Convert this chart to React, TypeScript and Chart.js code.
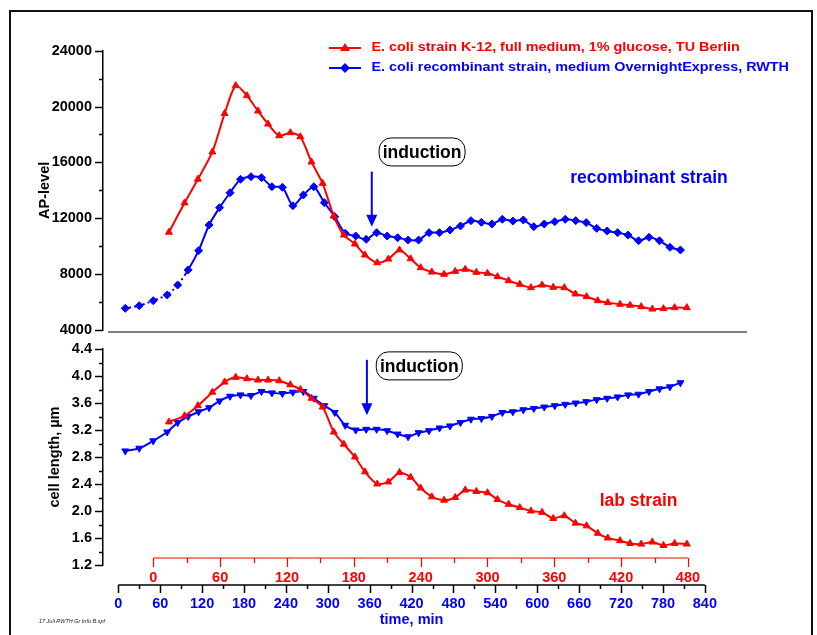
import React, { useEffect, useRef } from "react";
import { Chart, registerables } from "chart.js";

Chart.register(...registerables);

const FONT = "'Liberation Sans', Arial, Helvetica, sans-serif";
const RED = "#ff0000";
const BLUE = "#0000ff";

// ---------------- data ----------------
// Lab strain (E. coli K-12, TU Berlin): sampling times on the red time axis, min
const labTimes = [
  14, 28, 40, 53, 64, 74, 84, 94, 103, 113, 123, 132, 142, 152, 162, 171, 181, 190, 201, 211, 221, 231, 240, 250,
  261, 271, 280, 290, 300, 309, 319, 329, 339, 349, 359, 369, 379, 389, 399, 408, 419, 428, 438, 448, 458, 468, 479,
];
const labAP = [
  11000, 13100, 14800, 16750, 19500, 21500, 20780, 19680, 18750, 17910, 18130, 17840, 16030, 14500, 12160, 10800,
  10160, 9370, 8820, 9080, 9730, 9100, 8460, 8150, 7990, 8200, 8350, 8130, 8060, 7820, 7530, 7270, 7030, 7220, 7060,
  7030, 6580, 6390, 6100, 5960, 5840, 5770, 5670, 5500, 5530, 5600, 5600,
];
const labCellLength = [
  3.32, 3.41, 3.56, 3.76, 3.91, 3.98, 3.96, 3.94, 3.94, 3.93, 3.87, 3.8, 3.67, 3.54, 3.17, 2.99, 2.8, 2.58, 2.4, 2.43,
  2.57, 2.5, 2.34, 2.21, 2.16, 2.2, 2.31, 2.29, 2.27, 2.17, 2.1, 2.05, 2.0, 1.98, 1.89, 1.93, 1.82, 1.78, 1.67, 1.6,
  1.56, 1.52, 1.51, 1.54, 1.49, 1.52, 1.51,
];

// Recombinant strain (RWTH): sampling times on the blue time axis, min
const recTimes = [
  10, 30, 50, 70, 85, 100, 115, 130, 145, 160, 175, 190, 205, 220, 235, 250, 265, 280, 295, 310, 325, 340, 355, 370,
  385, 400, 415, 430, 445, 460, 475, 490, 505, 520, 535, 550, 565, 580, 595, 610, 625, 640, 655, 670, 685, 700, 715,
  730, 745, 760, 775, 790, 805,
];
const recAP = [
  5550, 5740, 6100, 6510, 7220, 8300, 9680, 11520, 12760, 13830, 14790, 14980, 14910, 14260, 14220, 12900, 13670,
  14260, 13120, 12110, 10920, 10730, 10490, 10970, 10730, 10610, 10440, 10440, 10970, 10970, 11160, 11450, 11830,
  11710, 11590, 11930, 11800, 11880, 11400, 11590, 11760, 11930, 11830, 11690, 11280, 11090, 10970, 10800, 10390,
  10640, 10390, 9920, 9730,
];
const recCellLength = [
  2.89, 2.93, 3.04, 3.17, 3.31, 3.4, 3.47, 3.53, 3.63, 3.7, 3.72, 3.71, 3.77, 3.75, 3.74, 3.76, 3.77, 3.67, 3.56,
  3.46, 3.27, 3.2, 3.21, 3.21, 3.19, 3.14, 3.1, 3.16, 3.19, 3.23, 3.26, 3.31, 3.36, 3.37, 3.4, 3.46, 3.47, 3.5, 3.52,
  3.54, 3.56, 3.58, 3.6, 3.62, 3.65, 3.67, 3.69, 3.72, 3.73, 3.77, 3.81, 3.84, 3.9,
];

// ---------------- ticks & labels ----------------
const apTicks = [4000, 8000, 12000, 16000, 20000, 24000];
const apMinorStep = 2000;
const lengthTicks = [1.2, 1.6, 2.0, 2.4, 2.8, 3.2, 3.6, 4.0, 4.4];
const lengthMinorStep = 0.2;
const recTimeTicks = [0, 60, 120, 180, 240, 300, 360, 420, 480, 540, 600, 660, 720, 780, 840];
const labTimeTicks = [0, 60, 120, 180, 240, 300, 360, 420, 480];
const timeMinorStep = 30;

const legendLabels = [
  "E. coli strain K-12, full medium, 1% glucose, TU Berlin",
  "E. coli recombinant strain, medium OvernightExpress, RWTH",
];

// annotation anchors (recombinant time axis, panel value)
const topInduction = { boxX: 435, boxY: 16750, arrowX: 363, arrowFrom: 15340, arrowTo: 11400 };
const bottomInduction = { boxX: 431, boxY: 4.15, arrowX: 356, arrowFrom: 4.24, arrowTo: 3.42 };
const recLabel = { x: 760, y: 14880, text: "recombinant strain" };
const labLabel = { x: 745, y: 2.15, text: "lab strain" };

// ---------------- layout ----------------
const PAGE_W = 817;
const TOP_H = 340;
const BOTTOM_H = 295;
const AXIS_X = 103; // y-axis line position
const PAD_RIGHT = 70; // plot area ends at x = 747
const REC_RANGE = { min: -21.9, max: 900.3 };
const LAB_RANGE = { min: -45.2, max: 533.0 };

const bold = (size: number) => ({ family: FONT, size, weight: "bold" as const });

function timeScale(which: "rec" | "lab", show: boolean) {
  const isRec = which === "rec";
  const range = isRec ? REC_RANGE : LAB_RANGE;
  const ticks = isRec ? recTimeTicks : labTimeTicks;
  return {
    type: "linear",
    position: "bottom",
    display: show,
    weight: isRec ? 2 : 1,
    bounds: "data",
    min: range.min,
    max: range.max,
    afterBuildTicks: (s: any) => {
      s.ticks = ticks.map((v) => ({ value: v }));
    },
    afterFit: (s: any) => {
      s.height = show ? (isRec ? 48 : 22) : 0;
      s.paddingLeft = 0;
      s.paddingRight = 0;
    },
    grid: { display: false, drawTicks: false },
    border: { display: false },
    ticks: {
      autoSkip: false,
      maxRotation: 0,
      minRotation: 0,
      padding: isRec ? 8.3 : 4.3,
      color: isRec ? BLUE : RED,
      font: bold(14.5),
      callback: (v: any) => String(v),
    },
  };
}

function valueScale(min: number, max: number, ticks: number[], title: string, titlePad: number, fmt: (v: number) => string) {
  return {
    type: "linear",
    position: "left",
    bounds: "data",
    min,
    max,
    afterBuildTicks: (s: any) => {
      s.ticks = ticks.map((v) => ({ value: v }));
    },
    afterFit: (s: any) => {
      s.width = AXIS_X;
      s.paddingTop = 0;
      s.paddingBottom = 0;
    },
    grid: { display: false, drawTicks: false },
    border: { display: true, color: "#000", width: 1.5 },
    ticks: { padding: 11, color: "#000", font: bold(14.5), callback: (v: any) => fmt(Number(v)) },
    title: { display: true, text: title, color: "#000", font: bold(14.5), padding: { top: titlePad, bottom: 0 } },
  };
}

function drawYTicks(ctx: CanvasRenderingContext2D, scale: any, minorStep: number, majorTicks: number[]) {
  const x = scale.right;
  const n = Math.round((scale.max - scale.min) / minorStep);
  ctx.save();
  ctx.strokeStyle = "#000";
  ctx.lineWidth = 1.5;
  for (let i = 0; i <= n; i++) {
    const v = scale.min + i * minorStep;
    const major = majorTicks.some((t) => Math.abs(t - v) < 1e-6);
    const y = Math.round(scale.getPixelForValue(v)) + 0.5;
    ctx.beginPath();
    ctx.moveTo(x - (major ? 8 : 4), y);
    ctx.lineTo(x, y);
    ctx.stroke();
  }
  ctx.restore();
}

function drawTimeAxis(
  ctx: CanvasRenderingContext2D,
  scale: any,
  y: number,
  ticks: number[],
  color: string,
  width: number,
  majorLen: number,
  minorLen: number
) {
  const first = ticks[0];
  const last = ticks[ticks.length - 1];
  ctx.save();
  ctx.strokeStyle = color;
  ctx.lineWidth = width;
  ctx.beginPath();
  ctx.moveTo(scale.getPixelForValue(first), y);
  ctx.lineTo(scale.getPixelForValue(last), y);
  ctx.stroke();
  const n = Math.round((last - first) / timeMinorStep);
  for (let i = 0; i <= n; i++) {
    const v = first + i * timeMinorStep;
    const major = ticks.includes(v);
    const x = Math.round(scale.getPixelForValue(v)) + 0.5;
    ctx.beginPath();
    ctx.moveTo(x, y);
    ctx.lineTo(x, y + (major ? majorLen : minorLen));
    ctx.stroke();
  }
  ctx.restore();
}

function roundedRect(ctx: CanvasRenderingContext2D, x: number, y: number, w: number, h: number, r: number) {
  ctx.beginPath();
  ctx.moveTo(x + r, y);
  ctx.arcTo(x + w, y, x + w, y + h, r);
  ctx.arcTo(x + w, y + h, x, y + h, r);
  ctx.arcTo(x, y + h, x, y, r);
  ctx.arcTo(x, y, x + w, y, r);
  ctx.closePath();
}

function drawInduction(ctx: CanvasRenderingContext2D, xs: any, ys: any, a: any) {
  const cx = xs.getPixelForValue(a.boxX);
  const cy = ys.getPixelForValue(a.boxY);
  const w = 86;
  const h = 28;
  ctx.save();
  roundedRect(ctx, cx - w / 2, cy - h / 2, w, h, 12);
  ctx.fillStyle = "#fff";
  ctx.fill();
  ctx.lineWidth = 1;
  ctx.strokeStyle = "#000";
  ctx.stroke();
  ctx.font = `bold 17.5px ${FONT}`;
  ctx.textAlign = "center";
  ctx.textBaseline = "middle";
  ctx.fillStyle = "#000";
  ctx.fillText("induction", cx, cy + 1);

  const ax = xs.getPixelForValue(a.arrowX);
  const y0 = ys.getPixelForValue(a.arrowFrom);
  const y1 = ys.getPixelForValue(a.arrowTo);
  ctx.strokeStyle = BLUE;
  ctx.fillStyle = BLUE;
  ctx.lineWidth = 2;
  ctx.beginPath();
  ctx.moveTo(ax, y0);
  ctx.lineTo(ax, y1 - 10);
  ctx.stroke();
  ctx.beginPath();
  ctx.moveTo(ax - 5.5, y1 - 12);
  ctx.lineTo(ax + 5.5, y1 - 12);
  ctx.lineTo(ax, y1);
  ctx.closePath();
  ctx.fill();
  ctx.restore();
}

function drawText(ctx: CanvasRenderingContext2D, text: string, x: number, y: number, color: string, font: string) {
  ctx.save();
  ctx.font = font;
  ctx.fillStyle = color;
  ctx.textAlign = "center";
  ctx.textBaseline = "middle";
  ctx.fillText(text, x, y);
  ctx.restore();
}

function legendMarker(ctx: CanvasRenderingContext2D, kind: "triangle" | "diamond", x: number, y: number, color: string) {
  ctx.save();
  ctx.fillStyle = color;
  ctx.beginPath();
  if (kind === "triangle") {
    ctx.moveTo(x, y - 5);
    ctx.lineTo(x + 5, y + 3);
    ctx.lineTo(x - 5, y + 3);
  } else {
    ctx.moveTo(x, y - 5);
    ctx.lineTo(x + 5, y);
    ctx.lineTo(x, y + 5);
    ctx.lineTo(x - 5, y);
  }
  ctx.closePath();
  ctx.fill();
  ctx.restore();
}

const topDecor = {
  id: "topDecor",
  afterDraw(chart: any) {
    const { ctx, chartArea, scales } = chart;
    drawYTicks(ctx, scales.y, apMinorStep, apTicks);

    // panel base line
    ctx.save();
    ctx.strokeStyle = "#555";
    ctx.lineWidth = 1.5;
    ctx.beginPath();
    ctx.moveTo(chartArea.left + 5, chartArea.bottom + 2);
    ctx.lineTo(chartArea.right, chartArea.bottom + 2);
    ctx.stroke();
    ctx.restore();

    // legend
    const rows = [
      { y: 48, color: RED, kind: "triangle" as const, text: legendLabels[0] },
      { y: 68, color: BLUE, kind: "diamond" as const, text: legendLabels[1] },
    ];
    rows.forEach((r) => {
      ctx.save();
      ctx.strokeStyle = r.color;
      ctx.lineWidth = 2;
      ctx.beginPath();
      ctx.moveTo(329, r.y);
      ctx.lineTo(361, r.y);
      ctx.stroke();
      ctx.restore();
      legendMarker(ctx, r.kind, 345, r.y, r.color);
      ctx.save();
      ctx.font = `bold 12.5px ${FONT}`;
      ctx.fillStyle = r.color;
      ctx.textAlign = "left";
      ctx.textBaseline = "middle";
      ctx.translate(371.5, r.y);
      ctx.scale(1.15, 1);
      ctx.fillText(r.text, 0, 0);
      ctx.restore();
    });

    drawInduction(ctx, scales.x, scales.y, topInduction);
    drawText(
      ctx,
      recLabel.text,
      scales.x.getPixelForValue(recLabel.x),
      scales.y.getPixelForValue(recLabel.y),
      BLUE,
      `bold 17.5px ${FONT}`
    );
  },
};

const bottomDecor = {
  id: "bottomDecor",
  afterDraw(chart: any) {
    const { ctx, chartArea, scales } = chart;
    drawYTicks(ctx, scales.y, lengthMinorStep, lengthTicks);
    drawTimeAxis(ctx, scales.xLab, chartArea.bottom - 7, labTimeTicks, RED, 1.2, 9, 5);
    drawTimeAxis(ctx, scales.x, chartArea.bottom + 20, recTimeTicks, "#000", 1.5, 8, 4);

    // time axis title, centred under the recombinant time axis
    const mid = (recTimeTicks[0] + recTimeTicks[recTimeTicks.length - 1]) / 2;
    drawText(ctx, "time, min", scales.x.getPixelForValue(mid), chart.height - 15, BLUE, `bold 14.5px ${FONT}`);

    drawInduction(ctx, scales.x, scales.y, bottomInduction);
    drawText(
      ctx,
      labLabel.text,
      scales.x.getPixelForValue(labLabel.x),
      scales.y.getPixelForValue(labLabel.y),
      RED,
      `bold 17.5px ${FONT}`
    );

    // file stamp
    ctx.save();
    ctx.font = `italic 5.5px ${FONT}`;
    ctx.fillStyle = "#222";
    ctx.textAlign = "left";
    ctx.textBaseline = "middle";
    ctx.fillText("17 Juli RWTH Gr Info B.spf", 39, chart.height - 14, 66);
    ctx.restore();
  },
};

function pairs(xs: number[], ys: number[]) {
  return xs.map((x, i) => ({ x, y: ys[i] }));
}

function topConfig(): any {
  return {
    type: "line",
    data: {
      datasets: [
        {
          label: legendLabels[0],
          data: pairs(labTimes, labAP),
          xAxisID: "xLab",
          yAxisID: "y",
          borderColor: RED,
          backgroundColor: RED,
          borderWidth: 2,
          tension: 0.25,
          pointStyle: "triangle",
          pointRadius: 4,
          pointBorderWidth: 1,
        },
        {
          label: legendLabels[1],
          data: pairs(recTimes, recAP),
          xAxisID: "x",
          yAxisID: "y",
          borderColor: BLUE,
          backgroundColor: BLUE,
          borderWidth: 2,
          tension: 0.25,
          pointStyle: "rectRot",
          pointRadius: 4,
          pointBorderWidth: 1,
          segment: {
            borderDash: (c: any) => (c.p0DataIndex <= 4 ? [6, 3, 2, 3] : undefined),
          },
        },
      ],
    },
    options: {
      responsive: false,
      animation: false,
      devicePixelRatio: 1,
      layout: { padding: { left: 0, right: PAD_RIGHT, top: 50.7, bottom: 10 } },
      plugins: { legend: { display: false }, tooltip: { enabled: false } },
      scales: {
        x: timeScale("rec", false),
        xLab: timeScale("lab", false),
        y: valueScale(4000, 24000, apTicks, "AP-level", 36, (v) => String(v)),
      },
    },
    plugins: [topDecor],
  };
}

function bottomConfig(): any {
  return {
    type: "line",
    data: {
      datasets: [
        {
          label: legendLabels[0],
          data: pairs(labTimes, labCellLength),
          xAxisID: "xLab",
          yAxisID: "y",
          borderColor: RED,
          backgroundColor: RED,
          borderWidth: 2,
          tension: 0.25,
          pointStyle: "triangle",
          pointRadius: 4,
          pointBorderWidth: 1,
        },
        {
          label: legendLabels[1],
          data: pairs(recTimes, recCellLength),
          xAxisID: "x",
          yAxisID: "y",
          borderColor: BLUE,
          backgroundColor: BLUE,
          borderWidth: 2,
          tension: 0.25,
          pointStyle: "triangle",
          pointRotation: 180,
          pointRadius: 4,
          pointBorderWidth: 1,
        },
      ],
    },
    options: {
      responsive: false,
      animation: false,
      devicePixelRatio: 1,
      layout: { padding: { left: 0, right: PAD_RIGHT, top: 9, bottom: 0 } },
      plugins: { legend: { display: false }, tooltip: { enabled: false } },
      scales: {
        xLab: timeScale("lab", true),
        x: timeScale("rec", true),
        y: valueScale(1.2, 4.4, lengthTicks, "cell length, µm", 46, (v) => v.toFixed(1)),
      },
    },
    plugins: [bottomDecor],
  };
}

export default function App() {
  const topRef = useRef<HTMLCanvasElement>(null);
  const bottomRef = useRef<HTMLCanvasElement>(null);

  useEffect(() => {
    Chart.defaults.font.family = FONT;
    const top = new Chart(topRef.current as HTMLCanvasElement, topConfig());
    const bottom = new Chart(bottomRef.current as HTMLCanvasElement, bottomConfig());
    return () => {
      top.destroy();
      bottom.destroy();
    };
  }, []);

  return (
    <div
      style={{
        position: "absolute",
        left: 0,
        top: 0,
        width: PAGE_W,
        height: 635,
        overflow: "hidden",
        background: "#fff",
      }}
    >
      <div
        style={{
          position: "absolute",
          left: 9,
          top: 10,
          width: 804,
          height: 700,
          border: "2px solid #111",
          boxSizing: "border-box",
        }}
      />
      <canvas ref={topRef} width={PAGE_W} height={TOP_H} style={{ position: "absolute", left: 0, top: 0 }} />
      <canvas
        ref={bottomRef}
        width={PAGE_W}
        height={BOTTOM_H}
        style={{ position: "absolute", left: 0, top: TOP_H }}
      />
    </div>
  );
}
